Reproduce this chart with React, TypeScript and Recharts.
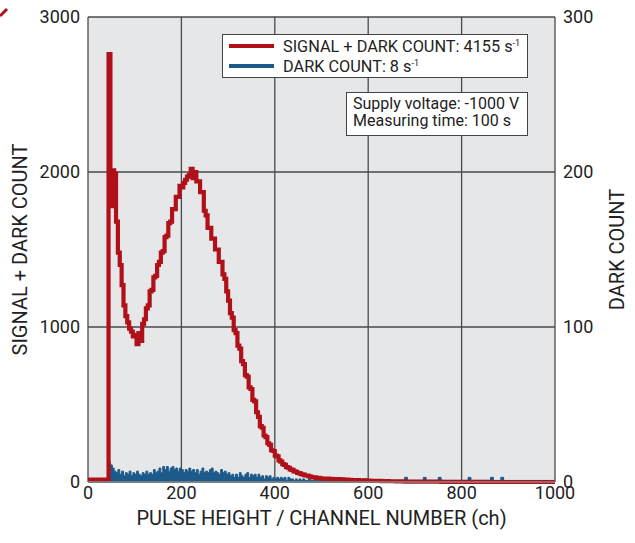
import React from 'react';
import { ComposedChart, Line, Area, XAxis, YAxis, CartesianGrid, Legend } from 'recharts';

// channel numbers (dense where the spectrum has structure)
const CHANNELS = [
  0, 40,
  44, 48, 52, 56, 60, 64, 68, 72, 76, 80,
  84, 88, 92, 96, 100, 104, 108, 112, 116, 120,
  124, 128, 132, 136, 140, 144, 148, 152, 156, 160,
  164, 168, 172, 176, 180, 184, 188, 192, 196, 200,
  204, 208, 212, 216, 220, 224, 228, 232, 236, 240,
  244, 248, 252, 256, 260, 264, 268, 272, 276, 280,
  284, 288, 292, 296, 300, 304, 308, 312, 316, 320,
  324, 328, 332, 336, 340, 344, 348, 352, 356, 360,
  364, 368, 372, 376, 380, 384, 388, 392, 396, 400,
  404, 408, 412, 416, 420, 424, 428, 432, 436, 440,
  444, 448, 452, 456, 460, 464, 468, 472, 476, 480,
  484, 488, 492, 496, 500,
  508, 516, 524, 532, 540, 548, 556, 564, 572, 580,
  588, 596, 604, 612, 620, 628, 636, 644, 652, 660,
  672, 678, 684, 700, 712, 718, 724, 744, 750, 756,
  780, 808, 814, 820, 840, 856, 862, 868, 878, 884,
  890, 920, 960, 1000,
];

// signal + dark count (left axis)
const SIGNAL = [
  15, 15,
  2760, 1780, 2010, 1990, 1680, 1480, 1400, 1270, 1140, 1070,
  1030, 990, 970, 940, 950, 890, 960, 910, 1020, 1050,
  1120, 1140, 1230, 1240, 1320, 1330, 1400, 1420, 1480, 1490,
  1580, 1590, 1670, 1680, 1760, 1760, 1840, 1840, 1910, 1900,
  1930, 1950, 1970, 1980, 2020, 1960, 2000, 1940, 1940, 1870,
  1870, 1750, 1720, 1640, 1640, 1570, 1570, 1500, 1500, 1420,
  1420, 1340, 1310, 1230, 1170, 1090, 1060, 980, 960, 880,
  860, 780, 760, 690, 680, 610, 600, 530, 520, 450,
  420, 360, 350, 300, 290, 250, 240, 205, 200, 170,
  165, 140, 132, 115, 110, 96, 92, 82, 78, 68,
  66, 58, 56, 50, 48, 42, 42, 36, 34, 30,
  30, 26, 26, 24, 22,
  22, 20, 19, 18, 17, 16, 14, 13, 12, 11,
  10, 9, 8, 8, 7, 6, 6, 5, 5, 4,
  4, 3, 3, 3, 2, 2, 2, 2, 2, 1,
  1, 1, 1, 1, 1, 1, 0, 0, 0, 0,
  0, 0, 0, 0,
];

// dark count only (right axis)
const DARK = [
  0, 0,
  13, 11, 9, 7, 6, 8, 5, 7, 4, 6,
  5, 7, 4, 6, 5, 7, 5, 4, 6, 5,
  7, 5, 6, 5, 8, 6, 7, 9, 6, 10,
  8, 10, 7, 9, 10, 8, 9, 7, 9, 8,
  6, 8, 7, 9, 7, 8, 6, 8, 5, 7,
  9, 6, 7, 6, 8, 9, 6, 7, 6, 5,
  8, 6, 7, 5, 6, 4, 5, 3, 5, 3,
  6, 4, 3, 5, 6, 3, 5, 4, 5, 3,
  5, 3, 4, 2, 4, 3, 4, 2, 3, 2,
  3, 2, 3, 2, 3, 1, 3, 2, 2, 1,
  2, 1, 2, 1, 2, 1, 1, 2, 1, 1,
  2, 1, 1, 2, 1,
  1, 2, 1, 1, 2, 1, 1, 1, 1, 1,
  2, 1, 1, 1, 1, 1, 1, 1, 1, 1,
  1, 3, 1, 1, 1, 3, 1, 1, 3, 1,
  1, 1, 3, 1, 1, 1, 3, 1, 1, 3,
  1, 1, 1, 1,
];

const X_TICKS = [0, 200, 400, 600, 800, 1000];
const LEFT_TICKS = [0, 1000, 2000, 3000];
const RIGHT_TICKS = [0, 100, 200, 300];

const LEGEND_TEXT: Record<string, string> = {
  signal: 'SIGNAL + DARK COUNT: 4155 s',
  dark: 'DARK COUNT: 8 s',
};

const RED = '#b0101a';
const BLUE = '#1b5a8a';
const FONT = 'Roboto, "Noto Sans", sans-serif';

const data = CHANNELS.map((ch, i) => ({ ch, signal: SIGNAL[i], dark: DARK[i] }));

function renderLegend(props: any) {
  const items = [...(props.payload || [])].sort((a: any) => (a.dataKey === 'signal' ? -1 : 1));
  return (
    <div
      style={{
        boxSizing: 'border-box',
        width: 306,
        height: 44,
        border: '1.3px solid #444',
        background: '#fff',
        paddingTop: 1,
        fontFamily: FONT,
        fontSize: 16.3,
        color: '#222',
      }}
    >
      {items.map((it: any) => (
        <div key={it.dataKey} style={{ display: 'flex', alignItems: 'center', height: 20 }}>
          <div style={{ width: 45, height: 3.5, background: it.color, marginLeft: 6, marginRight: 9 }} />
          <span style={{ whiteSpace: 'nowrap' }}>
            {LEGEND_TEXT[it.dataKey]}
            <span style={{ fontSize: 9, position: 'relative', top: -6 }}>-1</span>
          </span>
        </div>
      ))}
    </div>
  );
}

export default function App() {
  const tickStyle = { fill: '#222', fontSize: 18, fontFamily: FONT };
  const titleStyle = { fill: '#222', fontSize: 20, fontFamily: FONT };
  return (
    <div style={{ position: 'absolute', left: 0, top: 0, width: 635, height: 543, background: '#fff' }}>
      <ComposedChart width={635} height={543} data={data} margin={{ top: 17, right: 0, bottom: 0, left: 0 }}>
        <CartesianGrid yAxisId="left" stroke="#4a4a4a" strokeWidth={1.3} fill="#e6e7e9" fillOpacity={1} />
        <XAxis
          dataKey="ch"
          type="number"
          domain={[0, 1000]}
          ticks={X_TICKS}
          height={61}
          tickLine={false}
          tickSize={0}
          tickMargin={4}
          axisLine={{ stroke: '#888', strokeWidth: 1.3 }}
          tick={tickStyle}
          label={{
            value: 'PULSE HEIGHT / CHANNEL NUMBER (ch)',
            position: 'insideBottom',
            offset: 18,
            style: titleStyle,
          }}
        />
        <YAxis
          yAxisId="left"
          width={88}
          domain={[0, 3000]}
          ticks={LEFT_TICKS}
          tickLine={false}
          axisLine={false}
          tick={tickStyle}
          label={{
            value: 'SIGNAL + DARK COUNT',
            angle: -90,
            position: 'insideLeft',
            offset: 20,
            style: { ...titleStyle, textAnchor: 'middle' },
          }}
        />
        <YAxis
          yAxisId="right"
          orientation="right"
          width={80}
          domain={[0, 300]}
          ticks={RIGHT_TICKS}
          tickLine={false}
          axisLine={false}
          tick={tickStyle}
          label={{
            value: 'DARK COUNT',
            angle: -90,
            position: 'insideRight',
            offset: 18,
            style: { ...titleStyle, textAnchor: 'middle' },
          }}
        />
        <Legend
          layout="vertical"
          align="center"
          verticalAlign="middle"
          content={renderLegend}
          wrapperStyle={{ position: 'absolute', left: 222, top: 34, width: 306, height: 44 }}
        />
        <Area
          yAxisId="right"
          dataKey="dark"
          type="stepAfter"
          stroke={BLUE}
          strokeWidth={1}
          fill={BLUE}
          fillOpacity={1}
          dot={false}
          activeDot={false}
          isAnimationActive={false}
        />
        <Line
          yAxisId="left"
          dataKey="signal"
          type="stepAfter"
          stroke={RED}
          strokeWidth={4.2}
          dot={false}
          activeDot={false}
          isAnimationActive={false}
        />
      </ComposedChart>
      <div
        style={{
          position: 'absolute',
          left: 346,
          top: 92,
          width: 182,
          height: 44,
          boxSizing: 'border-box',
          border: '1.3px solid #444',
          background: '#fff',
          padding: '2px 0 0 6px',
          fontFamily: FONT,
          fontSize: 16,
          lineHeight: '17px',
          color: '#222',
          whiteSpace: 'nowrap',
        }}
      >
        <div>Supply voltage: -1000 V</div>
        <div>Measuring time: 100 s</div>
      </div>
      <svg width={12} height={20} style={{ position: 'absolute', left: 0, top: 0 }}>
        <line x1={0} y1={16} x2={7} y2={9} stroke={RED} strokeWidth={3} />
      </svg>
    </div>
  );
}
